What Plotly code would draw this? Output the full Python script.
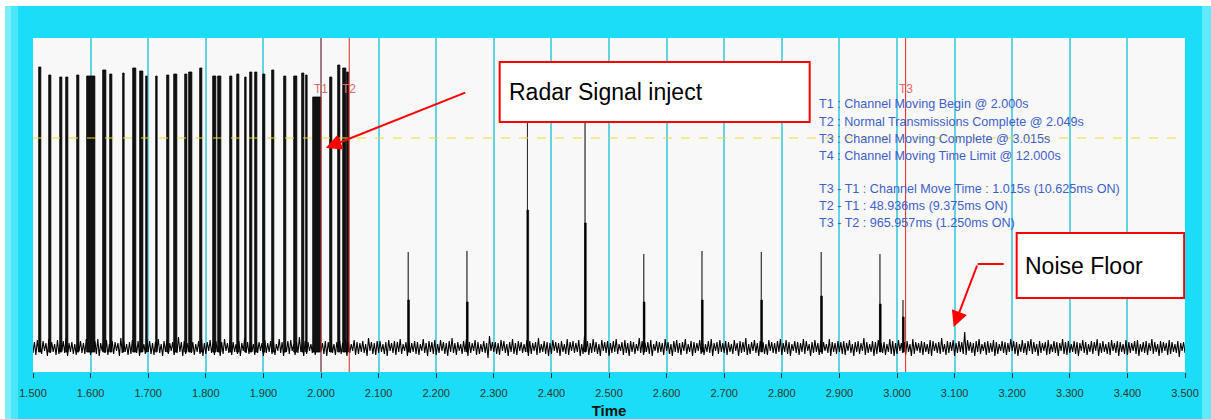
import plotly.graph_objects as go

# ---------------- data ----------------
noise_t0 = 1.5
noise_step = 0.005
noise_hi = [
    30, 32, 28, 31, 29, 33, 30, 28, 32, 29, 31, 34, 29, 30, 28, 32, 31, 29, 33, 30,
    28, 31, 33, 29, 30, 32, 28, 31, 30, 29, 34, 31, 28, 30, 32, 29, 31, 30, 28, 33,
    31, 29, 30, 33, 28, 31, 32, 29, 30, 28, 35, 30, 31, 29, 32, 30, 28, 31, 33, 29,
    30, 32, 29, 31, 28, 30, 33, 29, 32, 30, 28, 31, 29, 34, 30, 31, 28, 32, 30, 29,
    32, 29, 31, 30, 28, 33, 30, 29, 31, 32, 28, 30, 35, 29, 31, 30, 28, 32, 29, 31,
    29, 31, 30, 32, 28, 30, 31, 29, 33, 30, 28, 32, 30, 29, 31, 28, 34, 30, 29, 31,
    31, 28, 30, 32, 29, 31, 30, 33, 28, 30, 32, 29, 31, 30, 28, 33, 29, 31, 30, 32,
    28, 32, 30, 29, 31, 34, 29, 30, 28, 31, 33, 30, 29, 32, 30, 28, 31, 29, 36, 30,
    30, 29, 32, 31, 28, 30, 33, 29, 31, 30, 28, 32, 31, 29, 30, 34, 28, 31, 30, 29,
    32, 30, 29, 31, 28, 33, 30, 31, 29, 32, 28, 36, 31, 29, 33, 30, 28, 32, 30, 31,
    29, 31, 33, 28, 30, 32, 29, 31, 30, 28, 34, 31, 29, 30, 32, 28, 31, 30, 29, 33,
    30, 28, 31, 32, 29, 30, 33, 28, 31, 30, 29, 32, 30, 28, 31, 33, 29, 30, 32, 29,
    31, 30, 28, 32, 29, 31, 30, 34, 28, 30, 32, 29, 31, 30, 28, 32, 30, 29, 31, 33,
    29, 32, 30, 28, 31, 30, 29, 33, 31, 28, 30, 32, 29, 31, 30, 28, 33, 30, 29, 31,
    30, 31, 29, 32, 28, 30, 31, 29, 34, 30, 28, 31, 30, 32, 29, 30, 28, 33, 31, 29,
    32, 29, 30, 31, 28, 33, 30, 29, 31, 30, 28, 32, 31, 29, 30, 34, 28, 31, 30, 32,
    29, 31, 30, 40, 32, 30, 29, 31, 33, 28, 30, 31, 29, 32, 30, 28, 31, 30, 29, 33,
    31, 30, 28, 32, 29, 31, 33, 30, 28, 31, 29, 30, 32, 28, 31, 30, 29, 33, 30, 31,
    28, 31, 30, 29, 32, 30, 28, 31, 30, 33, 29, 31, 28, 30, 32, 29, 31, 30, 28, 32,
    30, 29, 31, 32, 28, 30, 31, 29, 33, 30, 28, 31, 30, 29, 32, 30, 28, 31, 29, 30,
    31,
]
noise_lo = [
    19, 17, 20, 18, 21, 16, 19, 20, 17, 18, 21, 19, 16, 20, 18, 17, 21, 19, 18, 20,
    17, 20, 18, 16, 21, 19, 17, 20, 18, 21, 16, 19, 20, 17, 18, 21, 19, 16, 20, 18,
    20, 18, 17, 21, 19, 16, 20, 18, 21, 17, 19, 20, 16, 18, 21, 19, 17, 20, 18, 16,
    18, 21, 19, 17, 20, 16, 18, 21, 19, 17, 20, 18, 16, 21, 19, 18, 20, 17, 19, 21,
    16, 19, 20, 18, 17, 21, 19, 16, 20, 18, 21, 17, 19, 20, 16, 18, 21, 19, 17, 20,
    21, 18, 16, 20, 19, 17, 21, 18, 20, 16, 19, 21, 17, 18, 20, 19, 16, 21, 18, 17,
    19, 20, 18, 16, 21, 19, 17, 20, 18, 21, 16, 19, 20, 18, 17, 21, 19, 16, 20, 18,
    17, 19, 21, 18, 16, 20, 19, 17, 21, 18, 20, 16, 19, 21, 17, 18, 20, 19, 14, 21,
    20, 18, 17, 21, 19, 16, 20, 18, 17, 21, 19, 20, 16, 18, 21, 17, 19, 20, 18, 16,
    18, 21, 19, 16, 20, 18, 17, 21, 19, 20, 16, 18, 21, 17, 19, 20, 18, 16, 21, 19,
    16, 19, 20, 18, 21, 17, 19, 16, 20, 18, 21, 19, 17, 20, 18, 16, 21, 19, 20, 17,
    21, 18, 16, 20, 19, 17, 21, 18, 20, 16, 19, 21, 18, 17, 20, 19, 16, 21, 18, 20,
    19, 17, 20, 18, 21, 16, 19, 20, 17, 18, 21, 19, 16, 20, 18, 17, 21, 19, 18, 20,
    17, 20, 18, 16, 21, 19, 17, 20, 18, 21, 16, 19, 20, 17, 18, 21, 19, 16, 20, 18,
    20, 18, 17, 21, 19, 16, 20, 18, 21, 17, 19, 20, 16, 18, 21, 19, 17, 20, 18, 16,
    18, 21, 19, 17, 20, 16, 18, 21, 19, 17, 20, 18, 16, 21, 19, 18, 20, 17, 19, 21,
    16, 19, 20, 18, 17, 21, 19, 16, 20, 18, 21, 17, 19, 20, 16, 18, 21, 19, 17, 20,
    21, 18, 16, 20, 19, 17, 21, 18, 20, 16, 19, 21, 17, 18, 20, 19, 16, 21, 18, 17,
    19, 20, 18, 16, 21, 19, 17, 20, 18, 21, 16, 19, 20, 18, 17, 21, 19, 16, 20, 18,
    17, 19, 21, 18, 16, 20, 19, 17, 21, 18, 20, 16, 19, 21, 17, 18, 20, 19, 15, 21,
    19,
]

pulse_start = [1.5099, 1.5273, 1.5464, 1.5568, 1.5759, 1.5932, 1.6210, 1.6332, 1.6557,
               1.6731, 1.6852, 1.6957, 1.7130, 1.7321, 1.7443, 1.7634, 1.7703, 1.7894,
               1.8120, 1.8207, 1.8415, 1.8537, 1.8675, 1.8762, 1.8849, 1.8988, 1.9144,
               1.9352, 1.9526, 1.9665, 1.9734, 1.9856, 2.0151, 2.0290, 2.0377, 2.0446]
pulse_end = [1.5136, 1.5310, 1.5501, 1.5605, 1.5796, 1.6074, 1.6265, 1.6369, 1.6582,
             1.6785, 1.6907, 1.6981, 1.7155, 1.7358, 1.7497, 1.7671, 1.7758, 1.7931,
             1.8174, 1.8261, 1.8452, 1.8574, 1.8700, 1.8799, 1.8886, 1.9025, 1.9181,
             1.9389, 1.9580, 1.9702, 1.9759, 1.9995, 2.0188, 2.0327, 2.0431, 2.0476]
pulse_top = [305, 297, 295, 295, 297, 296, 302, 298, 299, 304, 301, 296, 296, 297, 298,
             298, 300, 304, 296, 296, 296, 298, 295, 300, 300, 298, 302, 296, 296, 299,
             297, 275, 295, 307, 304, 300]
pulse_base = 20

spike_t = [2.152, 2.254, 2.359, 2.459, 2.561, 2.662, 2.765, 2.869, 2.971, 3.011]
spike_top = [120, 121, 272, 272, 118, 121, 120, 120, 118, 72]
spike_mid = [72, 70, 162, 149, 70, 72, 72, 76, 68, 55]

marker_t = [2.000, 2.049, 3.015]
marker_labels = ["T1", "T2", "T3"]
threshold_level = 234

info_lines = [
    "T1 : Channel Moving Begin @ 2.000s",
    "T2 : Normal Transmissions Complete @ 2.049s",
    "T3 : Channel Moving Complete @ 3.015s",
    "T4 : Channel Moving Time Limit @ 12.000s",
    "T3 - T1 : Channel Move Time : 1.015s (10.625ms ON)",
    "T2 - T1 : 48.936ms (9.375ms ON)",
    "T3 - T2 : 965.957ms (1.250ms ON)",
]
info_y = [268, 250, 233, 216, 183, 166, 149]

# ---------------- figure ----------------
CYAN = "#1BDDF7"
FONT = "Arial, Liberation Sans, sans-serif"

nx, ny = [], []
for i, (lo, hi) in enumerate(zip(noise_lo, noise_hi)):
    t = noise_t0 + i * noise_step
    nx += [t, t + noise_step / 2]
    ny += [lo, hi]

rx, ry = [], []
for s, e, h in zip(pulse_start, pulse_end, pulse_top):
    rx += [s, s, e, e, s, None]
    ry += [pulse_base, h, h, pulse_base, pulse_base, None]

sx, sy = [], []
for t, h, m in zip(spike_t, spike_top, spike_mid):
    w1 = 0.0006
    w2 = 0.0015
    sx += [t - w1, t - w1, t + w1, t + w1, t - w1, None]
    sy += [pulse_base, h, h, pulse_base, pulse_base, None]
    sx += [t - w2, t - w2, t + w2, t + w2, t - w2, None]
    sy += [pulse_base, m, m, pulse_base, pulse_base, None]

fig = go.Figure()
fig.add_trace(go.Scatter(x=nx, y=ny, mode="lines",
                         line=dict(color="black", width=1.1), hoverinfo="skip", showlegend=False))
fig.add_trace(go.Scatter(x=rx, y=ry, mode="lines", fill="toself", fillcolor="#111111",
                         line=dict(color="black", width=0.8), hoverinfo="skip", showlegend=False))
fig.add_trace(go.Scatter(x=sx, y=sy, mode="lines", fill="toself", fillcolor="black",
                         line=dict(color="black", width=0.6), hoverinfo="skip", showlegend=False))

shapes = []


def px2paper_x(p):
    return (p - 33) / 1152.0


def py2paper_y(p):
    return (372 - p) / 334.0


# frame decorations (paper coords)
shapes.append(dict(type="rect", xref="paper", yref="paper", layer="below",
                   x0=px2paper_x(0), x1=px2paper_x(1211), y0=py2paper_y(6), y1=py2paper_y(0),
                   fillcolor="white", line=dict(width=0)))
shapes.append(dict(type="rect", xref="paper", yref="paper", layer="below",
                   x0=px2paper_x(0), x1=px2paper_x(5), y0=py2paper_y(419), y1=py2paper_y(6),
                   fillcolor="white", line=dict(width=0)))
shapes.append(dict(type="rect", xref="paper", yref="paper", layer="below",
                   x0=px2paper_x(5), x1=px2paper_x(11), y0=py2paper_y(419), y1=py2paper_y(6),
                   fillcolor="#7AEEFC", line=dict(width=0)))
shapes.append(dict(type="rect", xref="paper", yref="paper", layer="below",
                   x0=px2paper_x(11), x1=px2paper_x(18), y0=py2paper_y(419), y1=py2paper_y(6),
                   fillcolor="#4AE6FA", line=dict(width=0)))
shapes.append(dict(type="rect", xref="paper", yref="paper", layer="below",
                   x0=px2paper_x(1202), x1=px2paper_x(1211), y0=py2paper_y(419), y1=py2paper_y(6),
                   fillcolor="#5EE9FC", line=dict(width=0)))

# threshold line
shapes.append(dict(type="line", xref="paper", yref="y", x0=0, x1=1,
                   y0=threshold_level, y1=threshold_level,
                   line=dict(color="#F0DA2E", width=1, dash="dash")))
# T markers
for t in marker_t:
    shapes.append(dict(type="line", xref="x", yref="paper", x0=t, x1=t, y0=0, y1=1,
                       line=dict(color="#E02424", width=1)))
# callout boxes
shapes.append(dict(type="rect", xref="x", yref="y", x0=2.3102, x1=2.8484, y0=250, y1=310,
                   fillcolor="white", line=dict(color="#FF0000", width=2)))
shapes.append(dict(type="rect", xref="x", yref="y", x0=3.2078, x1=3.4985, y0=74, y1=139,
                   fillcolor="white", line=dict(color="#FF0000", width=2)))
shapes.append(dict(type="line", xref="x", yref="y", x0=3.1401, x1=3.1852, y0=108, y1=108,
                   line=dict(color="#FF0000", width=2)))

annotations = []
for t, lab in zip(marker_t, marker_labels):
    annotations.append(dict(x=t, y=283, xref="x", yref="y", text=lab, showarrow=False,
                            xanchor="center", yanchor="middle",
                            font=dict(family=FONT, size=12, color="#E06A6A")))
for line, y in zip(info_lines, info_y):
    annotations.append(dict(x=2.8606, y=y, xref="x", yref="y", text=line, showarrow=False,
                            xanchor="left", yanchor="middle",
                            font=dict(family=FONT, size=12.6, color="#3F5FC8")))
annotations.append(dict(x=2.3224, y=280, xref="x", yref="y", text="Radar Signal inject",
                        showarrow=False, xanchor="left", yanchor="middle",
                        font=dict(family=FONT, size=23, color="black")))
annotations.append(dict(x=3.2182, y=106, xref="x", yref="y", text="Noise Floor",
                        showarrow=False, xanchor="left", yanchor="middle",
                        font=dict(family=FONT, size=23, color="black")))
annotations.append(dict(x=2.0082, y=224, xref="x", yref="y", ax=2.2530, ay=280,
                        axref="x", ayref="y", text="", showarrow=True, arrowhead=2,
                        arrowsize=1.6, arrowwidth=2, arrowcolor="#FF0000"))
annotations.append(dict(x=3.0984, y=45, xref="x", yref="y", ax=3.1401, ay=108,
                        axref="x", ayref="y", text="", showarrow=True, arrowhead=2,
                        arrowsize=1.6, arrowwidth=2, arrowcolor="#FF0000"))

fig.update_layout(
    width=1211, height=419,
    margin=dict(l=33, r=26, t=38, b=47, autoexpand=False),
    paper_bgcolor=CYAN, plot_bgcolor="#F8F8F8",
    showlegend=False,
    shapes=shapes, annotations=annotations,
    xaxis=dict(range=[1.5, 3.5], tick0=1.5, dtick=0.1, tickformat=".3f",
               automargin=False,
               showgrid=True, gridcolor="#62D3E3", gridwidth=2, zeroline=False,
               showline=False, ticks="outside", ticklen=5, tickcolor="#333333",
               ticklabelstandoff=6,
               tickfont=dict(family=FONT, size=11, color="#333333"),
               title=dict(text="<b>Time</b>", standoff=8,
                          font=dict(family=FONT, size=15, color="#111111"))),
    yaxis=dict(range=[0, 334], visible=False, showgrid=False, zeroline=False,
               automargin=False),
)

fig.write_html("out.html", config={"displayModeBar": False},
               post_script="document.body.style.margin='0';document.body.style.overflow='hidden';")
